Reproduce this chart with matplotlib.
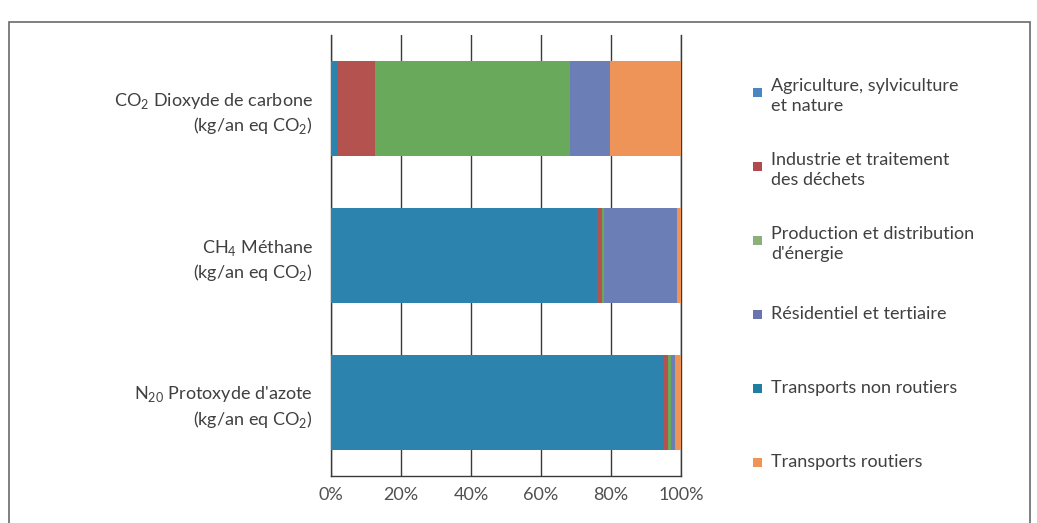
import matplotlib
matplotlib.use("Agg")
import matplotlib.pyplot as plt
from matplotlib.patches import Rectangle

plt.rcParams['font.family'] = ['Lato', 'DejaVu Sans']

# Gas categories (top to bottom) and sector shares in percent
gases = [
    "CO$_{\\mathregular{2}}$ Dioxyde de carbone\n(kg/an eq CO$_{\\mathregular{2}}$)",
    "CH$_{\\mathregular{4}}$ Méthane\n(kg/an eq CO$_{\\mathregular{2}}$)",
    "N$_{\\mathregular{20}}$ Protoxyde d'azote\n(kg/an eq CO$_{\\mathregular{2}}$)",
]
sectors = [
    "Agriculture, sylviculture\net nature",
    "Industrie et traitement\ndes déchets",
    "Production et distribution\nd'énergie",
    "Résidentiel et tertiaire",
    "Transports non routiers",
    "Transports routiers",
]
agriculture = [2.0, 75.9, 95.1]
industrie = [10.6, 1.5, 1.2]
production = [55.7, 0.6, 0.9]
residentiel = [11.4, 20.9, 1.1]
transports_non_routiers = [0.0, 0.0, 0.0]
transports_routiers = [20.3, 1.1, 1.7]
xticks = [0, 20, 40, 60, 80, 100]
xtick_labels = ["0%", "20%", "40%", "60%", "80%", "100%"]

series = [agriculture, industrie, production, residentiel,
          transports_non_routiers, transports_routiers]
bar_colors = ["#2c83ae", "#b3524f", "#69a95c", "#6b7eb6", "#1f7fa2", "#ef9458"]
legend_colors = ["#4a86c0", "#b04a4c", "#8db07a", "#6a75b0", "#1f7fa2", "#ef9458"]

W, H = 1037, 523
fig = plt.figure(figsize=(W / 100, H / 100), dpi=100)
fig.patch.set_facecolor("white")

# outer chart frame
fig.add_artist(Rectangle((9 / W, -0.01), (1030 - 9) / W, 1 - 22 / H + 0.01,
                         transform=fig.transFigure, fill=False,
                         edgecolor="#6a6a6a", lw=1.2))

ax = fig.add_axes([331 / W, 1 - 476 / H, 350 / W, (476 - 35) / H])
ypos = [2, 1, 0]
left = [0.0, 0.0, 0.0]
for vals, col in zip(series, bar_colors):
    ax.barh(ypos, vals, left=left, height=0.64, color=col, edgecolor="none", zorder=2)
    left = [l + v for l, v in zip(left, vals)]

ax.set_xlim(0, 100)
ax.set_ylim(-0.5, 2.5)
ax.set_xticks(xticks)
ax.set_xticklabels(xtick_labels, fontsize=13, color="#505050")
ax.set_yticks(ypos)
ax.set_yticklabels(gases, fontsize=13, color="#404040", linespacing=1.3)
ax.tick_params(axis="both", length=0)
ax.tick_params(axis="x", pad=8)
ax.tick_params(axis="y", pad=13)
ax.xaxis.grid(True, color="#3a3a3a", lw=1.0, zorder=0)
ax.set_axisbelow(True)
ax.spines["top"].set_visible(False)
for s in ["left", "bottom", "right"]:
    ax.spines[s].set_color("#3a3a3a")
    ax.spines[s].set_linewidth(1.0)
    ax.spines[s].set_zorder(0.5)

# legend on the right, one entry every 74 px
for i, (name, col) in enumerate(zip(sectors, legend_colors)):
    yc = 92 + 74 * i
    fig.add_artist(Rectangle((753 / W, 1 - (yc + 5) / H), 9 / W, 9 / H,
                             transform=fig.transFigure, color=col, lw=0))
    nlines = name.count("\n") + 1
    ytxt = yc if nlines == 1 else yc + 4
    fig.text(771 / W, 1 - ytxt / H, name, fontsize=13, color="#404040",
             ha="left", va="center", linespacing=1.3)

fig.savefig("out.png", dpi=100)
